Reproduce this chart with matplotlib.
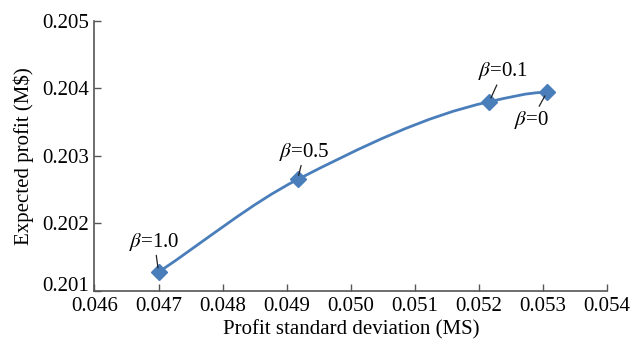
import matplotlib
matplotlib.use("Agg")
import matplotlib.pyplot as plt
from matplotlib.path import Path
from matplotlib.patches import PathPatch
from matplotlib.transforms import ScaledTranslation

plt.rcParams["font.family"] = ["Liberation Serif", "DejaVu Serif"]
plt.rcParams["mathtext.fontset"] = "stix"

# data
std_dev = [0.0470, 0.04917, 0.05216, 0.05306]
profit = [0.20128, 0.20265, 0.20380, 0.20394]
beta_labels = ["1.0", "0.5", "0.1", "0"]
# label offsets (points) relative to each marker
label_offsets = [(-3, 22), (5, 20), (10, 22), (-11, -20)]

color = "#4a7ebb"

fig = plt.figure(figsize=(6.44, 3.44), dpi=100)
ax = fig.add_axes([0.1467, 0.154, 0.796, 0.786])

# smooth monotone line through the points, drawn as cubic Bezier segments
n = len(std_dev)
h = [std_dev[i + 1] - std_dev[i] for i in range(n - 1)]
d = [(profit[i + 1] - profit[i]) / h[i] for i in range(n - 1)]
m = [d[0]]
for k in range(1, n - 1):
    w1 = 2 * h[k] + h[k - 1]
    w2 = h[k] + 2 * h[k - 1]
    m.append((w1 + w2) / (w1 / d[k - 1] + w2 / d[k]))
m.append(0.0)
verts = [(std_dev[0], profit[0])]
codes = [Path.MOVETO]
for i in range(n - 1):
    verts += [(std_dev[i] + h[i] / 3, profit[i] + m[i] * h[i] / 3),
              (std_dev[i + 1] - h[i] / 3, profit[i + 1] - m[i + 1] * h[i] / 3),
              (std_dev[i + 1], profit[i + 1])]
    codes += [Path.CURVE4] * 3
ax.add_patch(PathPatch(Path(verts, codes), facecolor="none", edgecolor=color, lw=2))

ax.plot(std_dev, profit, linestyle="none", marker="D", markersize=8,
        color=color, zorder=3)

for x, y, b, off in zip(std_dev, profit, beta_labels, label_offsets):
    ax.annotate(r"$\beta$=" + b, xy=(x, y), xytext=off, textcoords="offset points",
                ha="center", va="center", fontsize=15,
                arrowprops=dict(arrowstyle="-", color="#222222", lw=0.9,
                                shrinkA=0, shrinkB=3))

ax.set_xlim(0.046, 0.054)
ax.set_ylim(0.201, 0.205)
ax.set_xticks([0.046 + 0.001 * i for i in range(9)])
ax.set_yticks([0.201, 0.202, 0.203, 0.204, 0.205])
ax.xaxis.set_major_formatter(plt.FormatStrFormatter("%.3f"))
ax.yaxis.set_major_formatter(plt.FormatStrFormatter("%.3f"))

for s in ["top", "right"]:
    ax.spines[s].set_visible(False)
for s in ["left", "bottom"]:
    ax.spines[s].set_color("#555555")
    ax.spines[s].set_linewidth(1.2)
ax.tick_params(direction="in", length=5, width=1, color="#555555",
               labelsize=15, pad=4)

# lowest y label sits a little above its tick, as in the original
fig.canvas.draw()
lab = ax.get_yticklabels()[0]
lab.set_transform(lab.get_transform() + ScaledTranslation(0, 5 / 72, fig.dpi_scale_trans))

ax.set_xlabel("Profit standard deviation (MS)", fontsize=15, labelpad=3)
ax.set_ylabel(r"Expected profit (M\$)", fontsize=15, labelpad=6)

fig.savefig("out.png", dpi=100)
